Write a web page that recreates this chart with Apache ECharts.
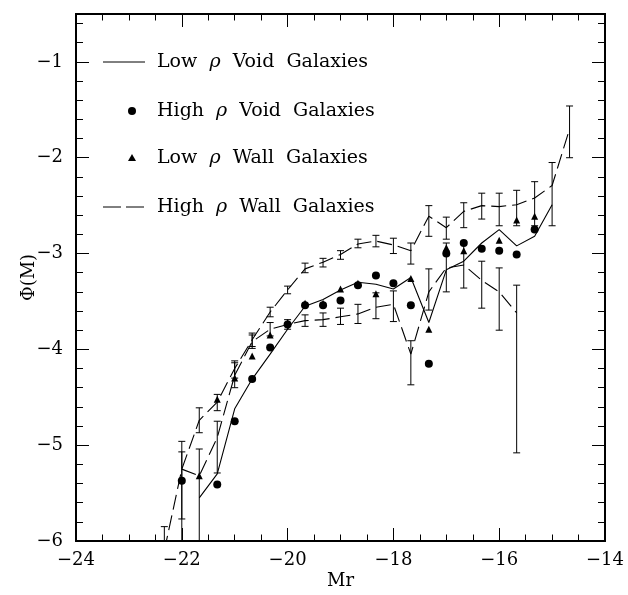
<!DOCTYPE html>
<html>
<head>
<meta charset="utf-8">
<script src="https://cdn.jsdelivr.net/npm/echarts@6/dist/echarts.min.js"></script>
<style>
html, body { margin: 0; padding: 0; background: #fff; }
#chart { width: 628px; height: 595px; }
</style>
</head>
<body>
<div id="chart"></div>
<script>
// absolute magnitude bins
var mags = [-22.33, -22.00, -21.67, -21.33, -21.00, -20.67, -20.33, -20.00, -19.67, -19.33, -19.00, -18.67,
            -18.33, -18.00, -17.67, -17.33, -17.00, -16.67, -16.33, -16.00, -15.67, -15.33, -15.00, -14.67];

// low density void galaxies (solid line)
var lowVoid = [null, null, -5.55, -5.30, -4.62, -4.31, -4.05, -3.79, -3.55, -3.48, -3.38, -3.30,
               -3.32, -3.37, -3.25, -3.72, -3.17, -3.08, -2.89, -2.75, -2.92, -2.82, -2.49, null];
// high density void galaxies (dots)
var highVoid = [null, -5.37, null, -5.41, -4.75, -4.31, -3.98, -3.74, -3.54, -3.54, -3.49, -3.33,
                -3.23, -3.31, -3.54, -4.15, -3.00, -2.89, -2.95, -2.97, -3.01, -2.75, null, null];
// low density wall galaxies (triangles)
var lowWall = [null, null, -5.32, -4.52, -4.30, -4.07, -3.85, -3.72, -3.52, -3.52, -3.37, -3.31,
               -3.42, null, -3.26, -3.79, -2.94, -2.97, null, -2.86, -2.65, -2.61, null, null];
// high density wall galaxies (dashed, with error bars)
var highWall = [-6.10, -5.25, -4.74, -4.55, -4.20, -3.90, -3.61, -3.38, -3.16, -3.09, -3.01, -2.90,
                -2.87, -2.91, -2.97, -2.61, -2.73, -2.56, -2.50, -2.51, -2.49, -2.42, -2.29, -1.70];
var highWallHi = [-5.85, -4.96, -4.61, -4.47, -4.12, -3.83, -3.56, -3.34, -3.10, -3.05, -2.97, -2.85,
                  -2.81, -2.84, -2.89, -2.50, -2.62, -2.47, -2.37, -2.37, -2.34, -2.25, -2.05, -1.46];
var highWallLo = [-6.50, -5.77, -4.87, -4.64, -4.30, -3.97, -3.66, -3.42, -3.20, -3.14, -3.06, -2.94,
                  -2.93, -3.00, -3.11, -2.82, -2.85, -2.73, -2.64, -2.71, -2.71, -2.71, -2.71, -2.00];
// second dashed curve with error bars
var wall2 = [null, -5.25, -5.32, -4.92, -4.27, -3.92, -3.79, -3.74, -3.70, -3.69, -3.66, -3.63,
             -3.56, -3.53, -4.05, -3.40, -3.15, -3.12, -3.28, -3.40, -3.62, null, null, null];
var wall2Hi = [null, -5.07, -5.04, -4.75, -4.14, -3.85, -3.72, -3.69, -3.64, -3.62, -3.57, -3.53,
               -3.41, -3.39, -3.91, -3.16, -2.89, -2.88, -3.08, -3.15, -3.33, null, null, null];
var wall2Lo = [null, -6.50, -6.50, -5.29, -4.40, -3.99, -3.86, -3.79, -3.76, -3.76, -3.74, -3.73,
               -3.68, -3.71, -4.37, -3.59, -3.40, -3.36, -3.57, -3.80, -5.08, null, null, null];

var legendNames = ['Low \u03c1 Void Galaxies', 'High \u03c1 Void Galaxies', 'Low \u03c1 Wall Galaxies', 'High \u03c1 Wall Galaxies'];
var legendRich = ['{n|Low}  {i|\u03c1}  {n|Void  Galaxies}', '{n|High}  {i|\u03c1}  {n|Void  Galaxies}',
                  '{n|Low}  {i|\u03c1}  {n|Wall  Galaxies}', '{n|High}  {i|\u03c1}  {n|Wall  Galaxies}'];

var FONT = 'DejaVu Serif';

function pairs(vals) {
  var out = [];
  for (var i = 0; i < mags.length; i++) {
    if (vals[i] != null) out.push([mags[i], vals[i]]);
  }
  return out;
}
function bars(lo, hi) {
  var out = [];
  for (var i = 0; i < mags.length; i++) {
    if (lo[i] != null && hi[i] != null) out.push([mags[i], lo[i], hi[i]]);
  }
  return out;
}

function errorBar(params, api) {
  var x = api.value(0);
  var lo = api.coord([x, api.value(1)]);
  var hi = api.coord([x, api.value(2)]);
  var cs = params.coordSys;
  var top = Math.max(hi[1], cs.y);
  var bot = Math.min(lo[1], cs.y + cs.height);
  var w = 3.5;
  var st = { stroke: '#000', lineWidth: 1 };
  var kids = [{ type: 'line', shape: { x1: lo[0], y1: top, x2: lo[0], y2: bot }, style: st }];
  if (hi[1] >= cs.y) kids.push({ type: 'line', shape: { x1: hi[0] - w, y1: hi[1], x2: hi[0] + w, y2: hi[1] }, style: st });
  if (lo[1] <= cs.y + cs.height) kids.push({ type: 'line', shape: { x1: lo[0] - w, y1: lo[1], x2: lo[0] + w, y2: lo[1] }, style: st });
  return { type: 'group', children: kids };
}

function minus(v) { return String(v).replace('-', '\u2212'); }

var chart = echarts.init(document.getElementById('chart'));

var tickLabel = { fontFamily: FONT, fontSize: 18, color: '#000', formatter: minus };
var lineAxis = { show: true, lineStyle: { color: '#000', width: 2 } };

var lx = 103, rowY = [62, 111, 158, 207];
var graphics = [
  { type: 'line', shape: { x1: lx, y1: rowY[0], x2: lx + 42, y2: rowY[0] }, style: { stroke: '#000', lineWidth: 1 } },
  { type: 'circle', shape: { cx: lx + 29, cy: rowY[1], r: 4 }, style: { fill: '#000' } },
  { type: 'polygon', shape: { points: [[lx + 29, rowY[2] - 4], [lx + 33, rowY[2] + 3], [lx + 25, rowY[2] + 3]] }, style: { fill: '#000' } },
  { type: 'line', shape: { x1: lx, y1: rowY[3], x2: lx + 42, y2: rowY[3] }, style: { stroke: '#000', lineWidth: 1, lineDash: [18, 5] } }
];
for (var k = 0; k < legendRich.length; k++) {
  graphics.push({ type: 'text', x: 157, y: rowY[k],
    style: { text: legendRich[k], verticalAlign: 'middle', fill: '#000',
      fontFamily: FONT, fontSize: 19,
      rich: { n: { fontFamily: FONT, fontSize: 19 }, i: { fontFamily: FONT, fontSize: 19, fontStyle: 'italic' } } } });
}

var option = {
  animation: false,
  backgroundColor: '#fff',
  grid: { left: 76, right: 23, top: 14, bottom: 53 },
  xAxis: [
    { type: 'value', position: 'bottom', min: -24, max: -14, interval: 2,
      name: 'Mr', nameLocation: 'middle', nameGap: 31, nameMoveOverlap: false,
      nameTextStyle: { fontFamily: FONT, fontSize: 18, color: '#000' },
      axisLine: lineAxis, axisLabel: Object.assign({ margin: 10 }, tickLabel),
      axisTick: { inside: true, length: 13, lineStyle: { color: '#000' } },
      minorTick: { show: true, splitNumber: 4, length: 6.5, lineStyle: { color: '#000' } },
      splitLine: { show: false } },
    { type: 'value', position: 'top', min: -24, max: -14, interval: 2,
      axisLine: lineAxis, axisLabel: { show: false },
      axisTick: { inside: true, length: 13, lineStyle: { color: '#000' } },
      minorTick: { show: true, splitNumber: 4, length: 6.5, lineStyle: { color: '#000' } },
      splitLine: { show: false } }
  ],
  yAxis: [
    { type: 'value', position: 'left', min: -6, max: -0.5, interval: 1,
      name: '\u03a6(M)', nameLocation: 'middle', nameGap: 38, nameRotate: 90, nameMoveOverlap: false,
      nameTextStyle: { fontFamily: FONT, fontSize: 18, color: '#000' },
      axisLine: lineAxis, axisLabel: Object.assign({ margin: 13, showMaxLabel: false }, tickLabel),
      axisTick: { inside: true, length: 13, lineStyle: { color: '#000' } },
      splitLine: { show: false } },
    { type: 'value', position: 'left', min: -6, max: -0.5, interval: 0.2,
      axisLine: lineAxis, axisLabel: { show: false },
      axisTick: { inside: true, length: 7, lineStyle: { color: '#000' } },
      splitLine: { show: false } },
    { type: 'value', position: 'right', min: -6, max: -0.5, interval: 1,
      axisLine: lineAxis, axisLabel: { show: false },
      axisTick: { inside: true, length: 13, lineStyle: { color: '#000' } },
      splitLine: { show: false } },
    { type: 'value', position: 'right', min: -6, max: -0.5, interval: 0.2,
      axisLine: lineAxis, axisLabel: { show: false },
      axisTick: { inside: true, length: 7, lineStyle: { color: '#000' } },
      splitLine: { show: false } }
  ],
  graphic: graphics,
  series: [
    { name: legendNames[0], type: 'line', data: pairs(lowVoid), symbol: 'none', clip: true,
      lineStyle: { color: '#000', width: 1.1 } },
    { name: legendNames[1], type: 'scatter', data: pairs(highVoid), symbol: 'circle', symbolSize: 8,
      itemStyle: { color: '#000', opacity: 1 } },
    { name: legendNames[2], type: 'scatter', data: pairs(lowWall), symbol: 'triangle', symbolSize: 7,
      itemStyle: { color: '#000', opacity: 1 } },
    { name: legendNames[3], type: 'line', data: pairs(highWall), symbol: 'none', clip: true,
      lineStyle: { color: '#000', width: 1.1, type: [15, 6] } },
    { name: 'highWallErr', type: 'custom', renderItem: errorBar, data: bars(highWallLo, highWallHi),
      encode: { x: 0, y: [1, 2] } },
    { name: 'wall2', type: 'line', data: pairs(wall2), symbol: 'none', clip: true,
      lineStyle: { color: '#000', width: 1.1, type: [15, 6] } },
    { name: 'wall2Err', type: 'custom', renderItem: errorBar, data: bars(wall2Lo, wall2Hi),
      encode: { x: 0, y: [1, 2] } }
  ]
};
chart.setOption(option);
</script>
</body>
</html>
